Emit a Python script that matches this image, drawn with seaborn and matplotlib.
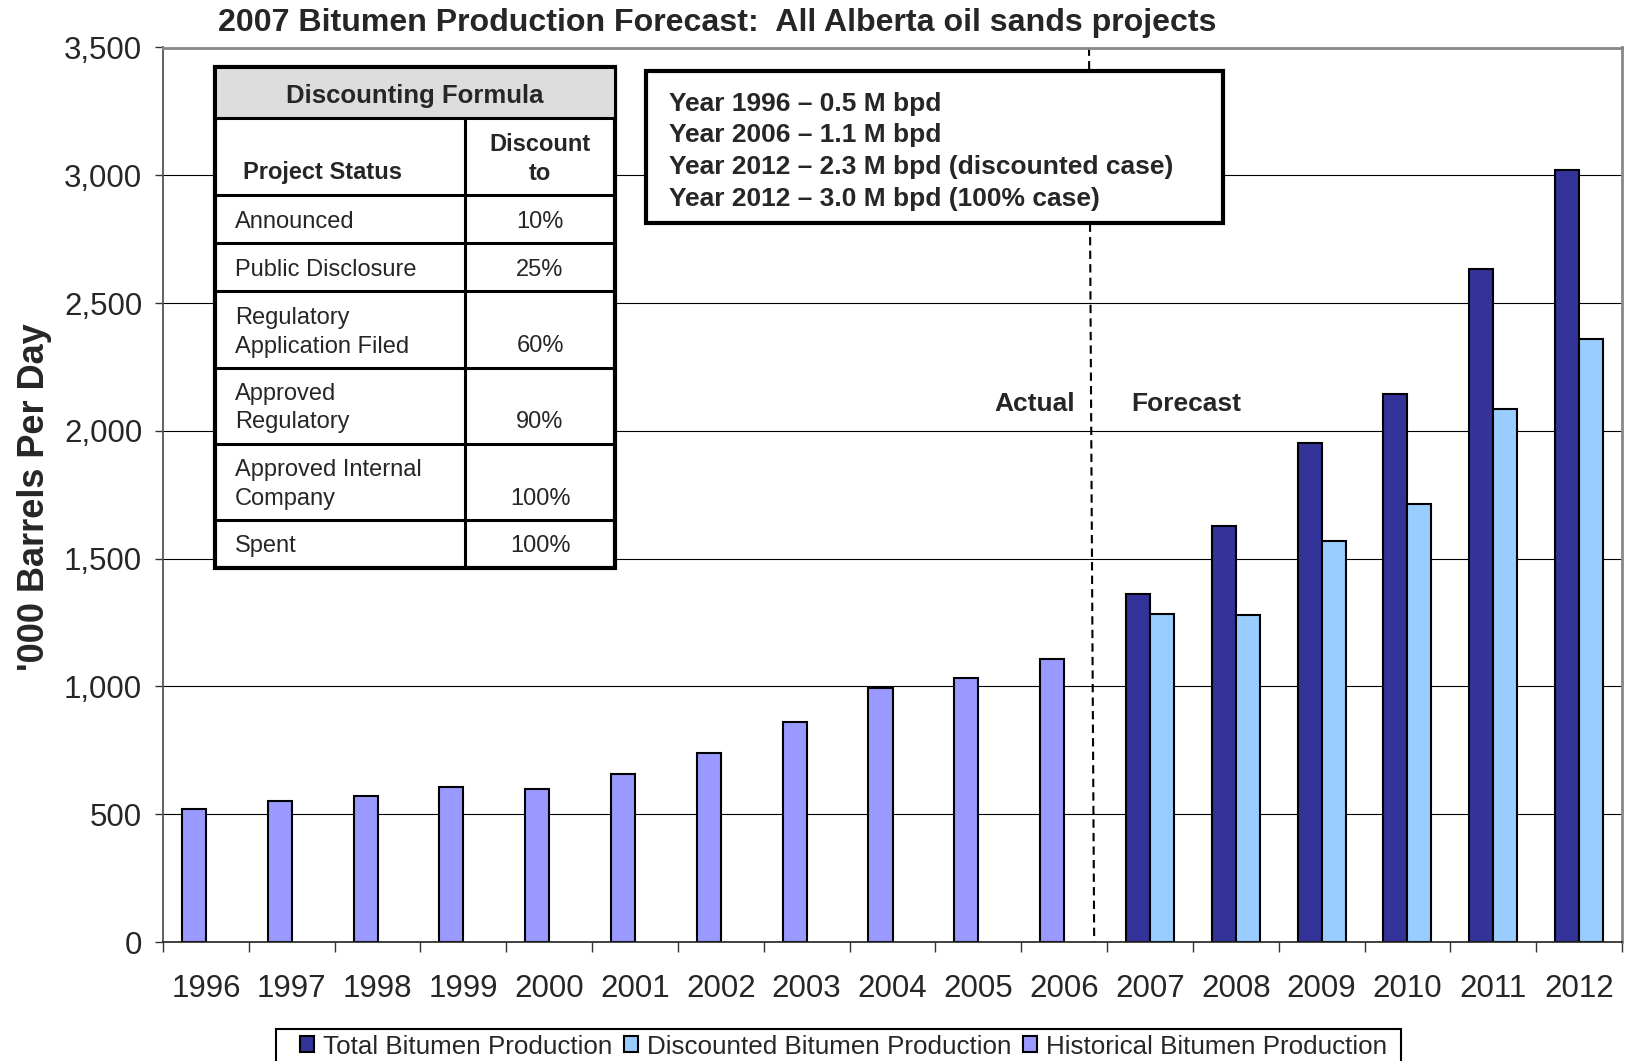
import matplotlib
matplotlib.use("Agg")
import matplotlib.pyplot as plt
import pandas as pd
import seaborn as sns
from matplotlib.patches import Rectangle, Patch
from matplotlib.ticker import FuncFormatter

# values ('000 barrels per day)
years = [str(y) for y in range(1996, 2013)]
hist_years = years[:11]
hist_values = [519, 552, 572, 608, 600, 657, 738, 860, 994, 1034, 1107]
forecast_years = years[11:]
total_values = [1362, 1626, 1951, 2145, 2632, 3021]
discounted_values = [1282, 1281, 1569, 1715, 2085, 2360]

series_names = ["Total Bitumen Production", "Discounted Bitumen Production",
                "Historical Bitumen Production"]

table_title = "Discounting Formula"
table_head = ["Project Status", "Discount\nto"]
status_labels = ["Announced", "Public Disclosure", "Regulatory\nApplication Filed",
                 "Approved\nRegulatory", "Approved Internal\nCompany", "Spent"]
discount_labels = ["10%", "25%", "60%", "90%", "100%", "100%"]

note_lines = ["Year 1996 \u2013 0.5 M bpd",
              "Year 2006 \u2013 1.1 M bpd",
              "Year 2012 \u2013 2.3 M bpd (discounted case)",
              "Year 2012 \u2013 3.0 M bpd (100% case)"]

TOTAL_C = "#333399"
DISC_C = "#99CCFF"
HIST_C = "#9999FF"

sns.set_style("white")
plt.rcParams["font.family"] = ["Liberation Sans", "DejaVu Sans"]

W, H = 1625, 1061


def fx(x):
    return x / W


def fy(y):
    return 1 - y / H


# long table: historical and total share the left slot, discounted the right one
df = pd.concat([
    pd.DataFrame({"year": hist_years, "value": hist_values, "slot": "left", "series": series_names[2]}),
    pd.DataFrame({"year": forecast_years, "value": total_values, "slot": "left", "series": series_names[0]}),
    pd.DataFrame({"year": forecast_years, "value": discounted_values, "slot": "right", "series": series_names[1]}),
], ignore_index=True)

fig = plt.figure(figsize=(W / 100, H / 100), dpi=100)
ax = fig.add_axes([fx(163), fy(942), (1622 - 163) / W, (942 - 47.5) / H])

sns.barplot(data=df, x="year", y="value", hue="slot", hue_order=["left", "right"],
            order=years, width=0.56, dodge=True, saturation=1,
            palette={"left": TOTAL_C, "right": DISC_C}, edgecolor="black",
            linewidth=1.5, errorbar=None, legend=False, ax=ax)

# recolour the historical bars in the left slot
for bar in ax.containers[0]:
    idx = int(round(bar.get_x() + bar.get_width()))
    if years[idx] in hist_years:
        bar.set_facecolor(HIST_C)

ax.set_xlim(-0.5, len(years) - 0.5)
ax.set_ylim(0, 3500)
ax.set_yticks(range(0, 3501, 500))
ax.yaxis.set_major_formatter(FuncFormatter(lambda v, p: f"{int(v):,}"))
ax.set_axisbelow(True)
ax.yaxis.grid(True, color="black", linewidth=0.8)
ax.xaxis.grid(False)

ax.set_xticks([i - 0.5 for i in range(len(years) + 1)], minor=True)
ax.tick_params(axis="x", which="major", length=0, pad=23, labelsize=22.5)
ax.tick_params(axis="x", which="minor", bottom=True, length=7, width=1, direction="out", color="#333333")
ax.tick_params(axis="y", left=True, length=6, width=1, direction="out", pad=9,
               labelsize=22.5, color="#333333")
ax.set_xlabel("")
ax.set_ylabel("'000 Barrels Per Day", fontsize=26, fontweight="bold", va="center")
ax.yaxis.set_label_coords((35 - 163) / (1622 - 163), (942 - 497) / (942 - 47.5))

for side in ["top", "right"]:
    ax.spines[side].set_color("#888888")
    ax.spines[side].set_linewidth(2)
ax.spines["left"].set_color("#555555")
ax.spines["left"].set_linewidth(1.3)
ax.spines["bottom"].set_color("#222222")
ax.spines["bottom"].set_linewidth(1.2)

# actual / forecast divider
ax.plot([10.29, 10.35], [3500, 0], color="black", linewidth=1.5, dashes=(4, 2.5), zorder=1)
ax.text(10.13, 2105, "Actual", ha="right", va="center", fontsize=19, fontweight="bold")
ax.text(10.78, 2105, "Forecast", ha="left", va="center", fontsize=19, fontweight="bold")

fig.text(fx(717), fy(23.5), "2007 Bitumen Production Forecast:  All Alberta oil sands projects",
         ha="center", va="center", fontsize=23.1, fontweight="bold")


def box(x0, y0, x1, y1, lw, fc="white", z=5):
    fig.add_artist(Rectangle((fx(x0), fy(y1)), fx(x1) - fx(x0), fy(y0) - fy(y1),
                             transform=fig.transFigure, facecolor=fc, edgecolor="black",
                             linewidth=lw, zorder=z))


def hline(x0, x1, y, lw):
    fig.add_artist(plt.Line2D([fx(x0), fx(x1)], [fy(y), fy(y)], transform=fig.transFigure,
                              color="black", linewidth=lw, zorder=6))


# discounting table
col_x = [215, 465, 615]
row_y = [66.5, 118, 194.5, 243, 291, 368, 444, 520, 567.5]
box(col_x[0], row_y[0], col_x[2], row_y[-1], 3)
box(col_x[0], row_y[0], col_x[2], row_y[1], 2.2, fc="#DDDDDD")
for y in row_y[2:-1]:
    hline(col_x[0], col_x[2], y, 2.2)
fig.add_artist(plt.Line2D([fx(col_x[1])] * 2, [fy(row_y[1]), fy(row_y[-1])],
                          transform=fig.transFigure, color="black", linewidth=2.2, zorder=6))
fig.text(fx(415), fy(95.5), table_title, ha="center", va="center", fontsize=18.5,
         fontweight="bold", zorder=7)

rows = [(table_head[0], table_head[1], "bold")] + \
    [(s, d, "normal") for s, d in zip(status_labels, discount_labels)]
line_gap = 28.7
for i, (status, disc, weight) in enumerate(rows):
    base = row_y[i + 2] - 21.5
    left_x = 243 if weight == "bold" else 235
    for k, part in enumerate(reversed(status.split("\n"))):
        fig.text(fx(left_x), fy(base - k * line_gap), part, ha="left", va="center",
                 fontsize=17, fontweight=weight, zorder=7)
    for k, part in enumerate(reversed(disc.split("\n"))):
        fig.text(fx(540), fy(base - k * line_gap), part, ha="center", va="center",
                 fontsize=17, fontweight=weight, zorder=7)

# summary note
box(646, 70.5, 1223, 223, 3)
for i, line in enumerate(note_lines):
    fig.text(fx(669), fy(103.5 + i * 31.8), line, ha="left", va="center",
             fontsize=19, fontweight="bold", zorder=7)

# legend: frame drawn separately, it runs past the bottom edge like the original
box(276, 1029, 1401, 1080, 1.5, z=8)
handles = [Patch(facecolor=c, edgecolor="black", linewidth=1.5) for c in [TOTAL_C, DISC_C, HIST_C]]
leg = fig.legend(handles, series_names, loc="upper left",
                 bbox_to_anchor=(fx(300), fy(1034.5) - 0.06, (1387 - 300) / W, 0.06), mode="expand",
                 ncol=3, fontsize=18.7, frameon=False, borderpad=0, borderaxespad=0,
                 handlelength=0.55, handleheight=0.55, handletextpad=0.35, columnspacing=0.6)
leg.set_zorder(9)

fig.savefig("out.png", dpi=100)
